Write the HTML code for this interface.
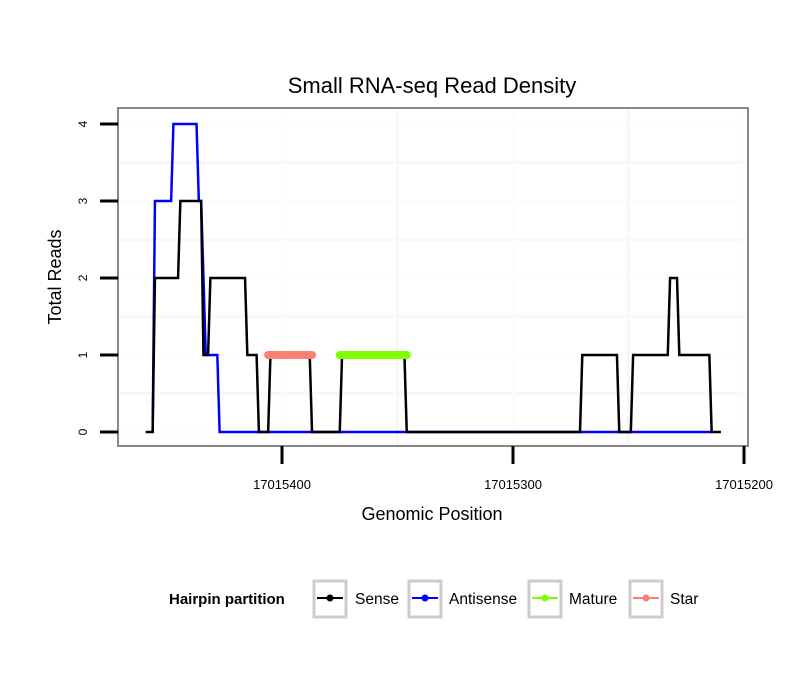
<!DOCTYPE html>
<html><head><meta charset="utf-8"><style>
body{margin:0;background:#fff;}
svg{display:block;font-family:"Liberation Sans",sans-serif;}
</style></head><body>
<svg id="chart" width="810" height="690">
<rect x="0" y="0" width="810" height="690" fill="#fff"/>
<text x="432" y="93" font-size="22" text-anchor="middle">Small RNA-seq Read Density</text>
<g id="grid"></g>
<g id="series"></g>
<rect x="118" y="108" width="630" height="338" fill="none" stroke="#888" stroke-width="2"/>
<g id="axes"></g>
<text x="432" y="520" font-size="18" text-anchor="middle">Genomic Position</text>
<text transform="translate(61,277) rotate(-90)" font-size="18" text-anchor="middle">Total Reads</text>
<g>
<text x="169" y="604" font-size="15" font-weight="bold">Hairpin partition</text>
<g><rect x="314" y="581" width="32" height="36" fill="#fff" stroke="#ccc" stroke-width="3"/><line x1="317" y1="598" x2="343" y2="598" stroke="#000" stroke-width="2"/><circle cx="330" cy="598" r="3.5" fill="#000"/><text x="355" y="604" font-size="15.5">Sense</text></g>
<g><rect x="409" y="581" width="32" height="36" fill="#fff" stroke="#ccc" stroke-width="3"/><line x1="412" y1="598" x2="438" y2="598" stroke="#00f" stroke-width="2"/><circle cx="425" cy="598" r="3.5" fill="#00f"/><text x="449" y="604" font-size="15.5">Antisense</text></g>
<g><rect x="529" y="581" width="32" height="36" fill="#fff" stroke="#ccc" stroke-width="3"/><line x1="532" y1="598" x2="558" y2="598" stroke="#7fff00" stroke-width="2"/><circle cx="545" cy="598" r="3.5" fill="#7fff00"/><text x="569" y="604" font-size="15.5">Mature</text></g>
<g><rect x="630" y="581" width="32" height="36" fill="#fff" stroke="#ccc" stroke-width="3"/><line x1="633" y1="598" x2="659" y2="598" stroke="#fa8072" stroke-width="2"/><circle cx="646" cy="598" r="3.5" fill="#fa8072"/><text x="670" y="604" font-size="15.5">Star</text></g>
</g>
</svg>
<script>
const xTicks = [17015400, 17015300, 17015200];
const yTicks = [0, 1, 2, 3, 4];
const senseX = [17015459,17015456,17015455,17015445,17015444,17015435,17015434,17015432,17015431,17015416,17015415,17015411,17015410,17015406,17015405,17015388,17015387,17015375,17015374,17015347,17015346,17015271,17015270,17015255,17015254,17015249,17015248,17015233,17015232,17015229,17015228,17015215,17015214,17015210];
const senseY = [0,0,2,2,3,3,1,1,2,2,1,1,0,0,1,1,0,0,1,1,0,0,1,1,0,0,1,1,2,2,1,1,0,0];
const antiX = [17015456,17015455,17015448,17015447,17015437,17015436,17015435,17015433,17015428,17015427,17015214];
const antiY = [0,3,3,4,4,3,3,1,1,0,0];
const starRange = [17015406, 17015387];
const matureRange = [17015375, 17015346];
const starValue = 1, matureValue = 1;

const NS = "http://www.w3.org/2000/svg";
function sx(p){ return 282 + (17015400 - p) * 2.31; }
function sy(v){ return 432 - v * 77; }
function mk(tag, attrs, parent){ const e = document.createElementNS(NS, tag); for (const k in attrs) e.setAttribute(k, attrs[k]); parent.appendChild(e); return e; }

const grid = document.getElementById('grid');
const series = document.getElementById('series');
const axes = document.getElementById('axes');
for (let i = 0; i < yTicks.length; i++) {
  const g = mk('line', {x1:118, x2:748, y1:sy(yTicks[i]), y2:sy(yTicks[i]), stroke:'#fcfcfc', 'stroke-width':2}, grid);
  
  
  if (i < yTicks.length - 1) {
    const m = mk('line', {x1:118, x2:748, y1:sy((yTicks[i]+yTicks[i+1])/2), y2:sy((yTicks[i]+yTicks[i+1])/2), stroke:'#f8f8f8', 'stroke-width':3}, grid);
    
    
  }
  const t = mk('line', {x1:100, x2:118, y1:sy(yTicks[i]), y2:sy(yTicks[i]), stroke:'#000', 'stroke-width':3}, axes);
  
  
  const l = mk('text', {transform:'translate(87,'+sy(yTicks[i])+') rotate(-90)', 'font-size':12, 'text-anchor':'middle'}, axes);
  l.textContent = yTicks[i];
  
  
}
for (let i = 0; i < xTicks.length; i++) {
  const g = mk('line', {x1:sx(xTicks[i]), x2:sx(xTicks[i]), y1:108, y2:446, stroke:'#fcfcfc', 'stroke-width':2}, grid);
  
  
  if (i < xTicks.length - 1) {
    const mx = sx((xTicks[i]+xTicks[i+1])/2);
    const m = mk('line', {x1:mx, x2:mx, y1:108, y2:446, stroke:'#f8f8f8', 'stroke-width':3}, grid);
    
    
  }
  const t = mk('line', {x1:sx(xTicks[i]), x2:sx(xTicks[i]), y1:446, y2:464, stroke:'#000', 'stroke-width':3}, axes);
  
  
  const l = mk('text', {x:sx(xTicks[i]), y:489, 'font-size':13, 'text-anchor':'middle'}, axes);
  l.textContent = xTicks[i];
  
  
}
function pts(xs, ys){ return xs.map((x,i)=>sx(x)+','+sy(ys[i])).join(' '); }
const ap = mk('polyline', {points:pts(antiX, antiY), fill:'none', stroke:'#00f', 'stroke-width':2.5}, series);


const sp = mk('polyline', {points:pts(senseX, senseY), fill:'none', stroke:'#000', 'stroke-width':2.5}, series);


const st = mk('line', {x1:sx(starRange[0]), x2:sx(starRange[1]), y1:sy(starValue), y2:sy(starValue), stroke:'#fa8072', 'stroke-width':8, 'stroke-linecap':'round'}, series);


const ma = mk('line', {x1:sx(matureRange[0]), x2:sx(matureRange[1]), y1:sy(matureValue), y2:sy(matureValue), stroke:'#7fff00', 'stroke-width':8, 'stroke-linecap':'round'}, series);


</script>
</body></html>
